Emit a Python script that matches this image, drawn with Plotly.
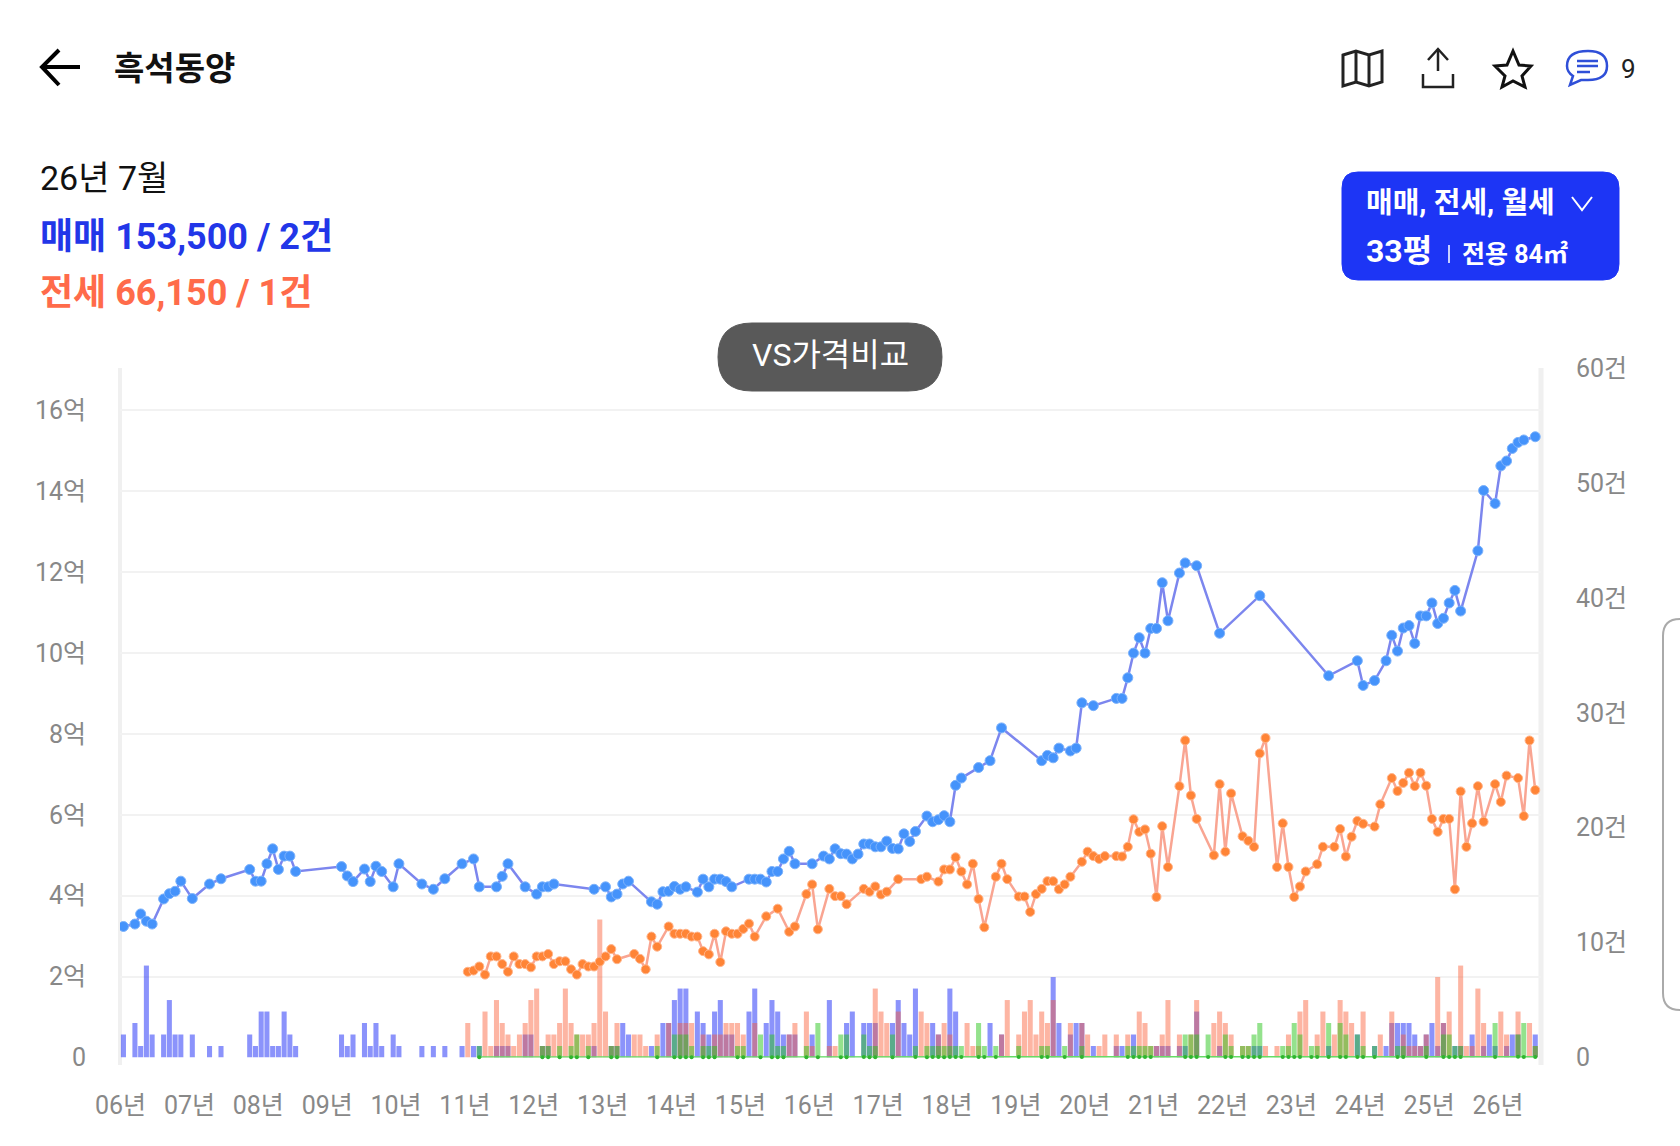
import plotly.graph_objects as go

W = 1680
H = 1146

# months counted from 2006-01
year_ticks = [0, 12, 24, 36, 48, 60, 72, 84, 96, 108, 120, 132, 144, 156, 168, 180, 192, 204, 216, 228, 240]
year_labels = ["06년", "07년", "08년", "09년", "10년", "11년", "12년", "13년", "14년", "15년", "16년",
               "17년", "18년", "19년", "20년", "21년", "22년", "23년", "24년", "25년", "26년"]
price_ticks = [0, 20000, 40000, 60000, 80000, 100000, 120000, 140000, 160000]
price_labels = ["0", "2억", "4억", "6억", "8억", "10억", "12억", "14억", "16억"]
count_ticks = [0, 10, 20, 30, 40, 50, 60]
count_labels = ["0", "10건", "20건", "30건", "40건", "50건", "60건"]

sale_month = [0, 2, 3, 4, 5, 7, 8, 9, 10, 12, 15, 17, 22, 23, 24, 25, 26, 27, 28, 29, 30, 38, 39, 40, 42, 43, 44, 45,
              47, 48, 52, 54, 56, 59, 61, 62, 65, 66, 67, 70, 72, 73, 74, 75, 82, 84, 85, 86, 87, 88,
              92, 93, 94, 95, 96, 97, 98, 100, 101, 102, 103, 104, 105, 106, 109, 110, 111, 112, 113, 114, 115, 116,
              117, 120, 122, 123, 124, 125, 126, 127, 128, 129, 130, 131, 132, 133, 134, 135, 136, 137, 138,
              140, 141, 142, 143, 144, 145, 146, 149, 151, 153, 160, 161, 162, 163, 165, 166, 167, 169, 173, 174,
              175, 176, 177, 178, 179, 180, 181, 182, 184, 185, 187, 191, 198, 210, 215, 216, 218, 220, 221, 222,
              223, 224, 225, 226, 227, 228, 229, 230, 231, 232, 233, 236, 237, 239, 240, 241, 242, 243, 244, 246]
sale_price = [32400, 33000, 35500, 33700, 33000, 39200, 40500, 41100, 43600, 39300, 42900, 44200, 46500, 43600, 43600,
              47900, 51600, 46500, 49800, 49800, 46000, 47200, 44900, 43500, 46600, 43500, 47300, 46000,
              42200, 47900, 42900, 41600, 44200, 47900, 49100, 42200, 42200, 44800, 47900, 42200, 40400, 42200, 42200,
              42900, 41600, 42200, 39700, 40400, 42900, 43600,
              38500, 37900, 41000, 41100, 42300, 41600, 42200, 40900, 44100, 42200, 44100, 44100, 43500, 42200,
              44100, 44100, 44100, 43400, 46000, 46000, 49100, 51000, 47900, 47900, 49800, 49100, 51600, 50400,
              50300, 49100, 50300, 52800, 52800, 52100, 52100, 53500, 51700, 51600, 55300, 53400, 55900,
              59700, 58300, 58800, 59800, 58300, 67300, 69100, 71700, 73400, 81500, 73400, 74700, 74100, 76500,
              75800, 76500, 87700, 87000, 88800, 88800, 93900, 100000, 103800, 100000, 106100, 106100, 117400,
              108000, 119800, 122300, 121600, 104900, 114200, 94400, 98100, 92000, 93200, 98100, 104400, 100500,
              106200, 106800, 102400, 109200, 109200, 112400, 107300, 108600, 112400, 115500, 110400, 125300,
              140200, 137000, 146300, 147500, 150600, 152100, 152700, 153500]

jeonse_month = [60, 61, 62, 63, 64, 65, 66, 67, 68, 69, 70, 71, 72, 73, 74, 75, 76, 77, 78, 79, 80, 81, 82, 83, 84, 85,
                86, 89, 90, 91, 92, 93, 95, 96, 97, 98, 99, 100, 101, 102, 103, 104, 105, 106, 107, 108, 109, 110,
                112, 114, 116, 117, 119, 120, 121, 123, 124, 125, 126, 129, 130, 131, 132, 133, 135, 139, 140, 142,
                143, 144, 145, 146, 147, 148, 149, 150, 152, 153, 154, 156, 157, 158, 159, 160, 161, 162, 163, 164,
                165, 167, 168, 169, 170, 171, 173, 174, 175, 176, 177, 178, 179, 180, 181, 182, 184, 185, 186, 187,
                190, 191, 192, 193, 195, 196, 197, 198, 199, 201, 202, 203, 204, 205, 206, 208, 209, 211, 212, 213,
                214, 215, 216, 218, 219, 221, 222, 223, 224, 225, 226, 227, 228, 229, 230, 231, 232, 233, 234, 235,
                236, 237, 239, 240, 241, 243, 244, 245, 246]
jeonse_price = [21200, 21500, 22500, 20500, 25000, 25000, 23100, 21200, 25000, 23100, 23100, 22300, 25000, 25000,
                25600, 23100, 23800, 23800, 21800, 20500, 23100, 22500, 22500, 23700, 25000, 26800,
                24300, 25600, 24400, 21800, 29900, 27400, 32400, 30600, 30600, 30600, 29900, 29900, 26300, 25500,
                30600, 23600, 31200, 30600, 30600, 31800, 33100, 29900,
                34900, 36800, 31100, 32400, 40400, 42800, 31700, 41700, 39900, 39900, 37900, 41700, 41000, 42300,
                40300, 41000, 44100, 44100, 44700, 43500,
                46500, 46500, 49500, 46000, 42800, 47900, 39200, 32200, 44700, 47900, 44100, 39800, 39800, 36000,
                40400, 41700, 43600, 43600, 41600, 42800,
                44700, 48400, 50900, 49800, 49100, 49800, 49800, 49700, 52100, 58900, 55800, 56400, 50400, 39700,
                57200, 47100, 67100, 78400, 64800, 59000,
                50000, 67600, 50900, 65300, 54700, 53600, 52100, 75200, 79000, 47100, 57900, 47100, 39700, 42300,
                46000, 47800, 52100, 52100, 56500, 49700,
                54600, 58500, 57800, 57100, 62600, 69100, 65900, 67900, 70400, 67100, 70400, 67200, 59000, 55800,
                59000, 59000, 41600, 65800, 52100, 57900,
                67100, 58300, 67600, 63200, 69700, 69100, 59700, 78400, 66150]

rent_month = [62, 73, 74, 76, 78, 79, 81, 85, 86, 93, 96, 97, 98, 99, 101, 102, 103, 107, 108, 111, 113, 114, 115, 119,
              121, 125, 126, 129, 130, 131, 134, 138, 140, 141, 142, 143, 144, 145, 146, 149, 150, 152, 156, 160, 161,
              164, 167, 175, 176, 177, 178, 179, 185, 186, 187, 189, 192, 193, 195, 196, 197, 198, 202, 203, 204, 205,
              207, 208, 210, 212, 213, 215, 216, 218, 222, 223, 227, 230, 231, 232, 233, 239, 243, 244, 246]
rent_price = [60, 70, 70, 65, 75, 70, 80, 70, 75, 80, 75, 80, 75, 85, 80, 80, 75, 90, 85, 80, 85, 80, 90, 85,
              90, 85, 90, 95, 90, 85, 90, 95, 90, 100, 95, 90, 100, 95, 100, 100, 95, 105, 100, 110, 105,
              100, 110, 115, 110, 105, 115, 110, 120, 125, 120, 115, 125, 130, 120, 125, 130, 125, 135, 130, 125, 130,
              135, 130, 140, 135, 130, 140, 135, 140, 145, 140, 135, 145, 140, 150, 145, 150, 155, 150, 150]

sale_count_month = [0, 2, 3, 4, 5, 7, 8, 9, 10, 12, 15, 17, 22, 23, 24, 25, 26, 27, 28, 29, 30, 38, 39, 40, 42, 43, 44,
                    45, 47, 48, 52, 54, 56, 59, 61, 62, 65, 66, 67, 70, 71, 73, 74, 82, 85, 86, 87, 88, 92, 94, 95, 96,
                    97, 98, 100, 101, 102, 103, 104, 105, 106, 109, 110, 112, 113, 114, 115, 116, 117, 120, 123, 126,
                    127, 129, 130, 131, 134, 135, 136, 137, 138, 141, 142, 144, 145, 151, 153, 162, 163, 165, 166, 167,
                    169, 173, 174, 176, 180, 181, 182, 184, 185, 187, 191, 197, 198, 210, 215, 218, 220, 221, 222, 223,
                    224, 225, 226, 227, 228, 229, 230, 232, 233, 235, 237, 238, 239, 241, 242, 243, 246]
sale_count = [2, 3, 1, 8, 2, 2, 5, 2, 2, 2, 1, 1, 2, 1, 4, 4, 1, 1, 4, 2, 1, 2, 1, 2, 3, 1, 3,
              1, 2, 1, 1, 1, 1, 1, 1, 1, 1, 1, 1, 2, 2, 1, 1, 1, 1, 1, 3, 2, 1, 3, 3, 5,
              6, 6, 4, 3, 2, 4, 5, 2, 2, 4, 6, 3, 5, 4, 2, 2, 2, 2, 5, 3,
              4, 3, 3, 3, 3, 5, 3, 2, 6, 3, 2, 6, 4, 3, 2, 7, 3, 2, 3, 3,
              1, 1, 1, 2, 1, 1, 1, 1, 1, 4, 1, 1, 1, 1, 2, 1, 1, 3, 3, 3,
              3, 2, 1, 2, 3, 1, 3, 1, 1, 2, 1, 2, 1, 1, 2, 2, 2]

jeonse_count_month = [60, 63, 64, 65, 66, 67, 68, 69, 70, 71, 72, 73, 74, 75, 76, 77, 78, 79, 80, 81, 82, 83, 84, 85,
                      86, 89, 90, 91, 93, 95, 97, 98, 99, 101, 103, 104, 105, 106, 107, 108, 110, 116, 117, 119, 120,
                      123, 124, 131, 132, 133, 135, 139, 140, 142, 143, 144, 147, 148, 149, 153, 154, 156, 157, 158,
                      159, 160, 161, 162, 165, 167, 168, 170, 171, 173, 175, 177, 178, 179, 180, 181, 182, 184, 186,
                      187, 190, 191, 192, 193, 195, 196, 199, 201, 203, 205, 206, 208, 209, 211, 212, 213, 214, 216,
                      219, 221, 223, 224, 225, 226, 227, 229, 230, 231, 233, 234, 235, 236, 237, 240, 241, 243, 245, 246]
jeonse_count = [3, 4, 1, 5, 3, 2, 1, 2, 3, 5, 6, 1, 2, 2, 3, 6, 3, 2, 2, 2, 3, 12, 4, 1,
                3, 2, 2, 1, 2, 3, 3, 3, 3, 2, 2, 2, 3, 3, 3, 2, 3, 2, 3, 4, 1,
                1, 1, 6, 4, 3, 4, 4, 3, 2, 3, 2, 3, 1, 1, 2, 5, 2, 4, 5,
                2, 4, 3, 5, 3, 3, 2, 1, 2, 2, 2, 4, 3, 1, 1, 2, 5, 2, 2,
                5, 3, 4, 3, 2, 1, 1, 1, 1, 2, 4, 5, 2, 4, 2, 5, 4, 3, 4,
                2, 4, 2, 1, 1, 1, 2, 7, 3, 4, 8, 1, 1, 6, 3, 4, 2, 4, 3, 1]

rent_count_month = rent_month
rent_count = [1, 1, 1, 1, 1, 2, 1, 1, 1, 1, 2, 2, 2, 1, 1, 1, 1, 1, 1, 2, 2, 1, 1, 1,
              3, 2, 2, 2, 1, 1, 2, 1, 1, 1, 1, 1, 1, 1, 1, 3, 1, 1, 1, 1, 1,
              1, 1, 1, 1, 1, 1, 1, 2, 2, 2, 2, 2, 1, 1, 1, 2, 3, 1, 1, 3, 2,
              1, 1, 3, 3, 2, 2, 1, 1, 1, 1, 1, 2, 2, 1, 1, 3, 2, 3, 1]

FONT = "Roboto, 'Noto Sans CJK KR', sans-serif"
KR = "'Noto Sans CJK KR', sans-serif"


def pt(x, y):
    return f"{x / W:.5f},{1 - y / H:.5f}"


def path(points, close=False):
    s = "M " + " L ".join(pt(x, y) for x, y in points)
    return s + " Z" if close else s


def rounded(x0, y0, x1, y1, r):
    return (f"M {pt(x0 + r, y0)} L {pt(x1 - r, y0)} Q {pt(x1, y0)} {pt(x1, y0 + r)} "
            f"L {pt(x1, y1 - r)} Q {pt(x1, y1)} {pt(x1 - r, y1)} L {pt(x0 + r, y1)} "
            f"Q {pt(x0, y1)} {pt(x0, y1 - r)} L {pt(x0, y0 + r)} Q {pt(x0, y0)} {pt(x0 + r, y0)} Z")


def shape(d, line="black", width=3, fill=None):
    s = dict(type="path", path=d, xref="paper", yref="paper", line=dict(color=line, width=width))
    if fill:
        s["fillcolor"] = fill
    return s


def label(x, y, text, size, color="black", weight=400, anchor="left", family=FONT):
    return dict(x=x / W, y=1 - y / H, xref="paper", yref="paper", text=text, showarrow=False, xanchor=anchor,
                yanchor="middle", font=dict(family=family, size=size, color=color, weight=weight))


fig = go.Figure()

# bars go on the base axis so that the price lines stay on top of them
fig.add_trace(go.Bar(x=sale_count_month, y=sale_count, width=0.88, marker=dict(color="rgba(23,39,247,0.5)", line_width=0),
                     name="매매 거래량", yaxis="y"))
fig.add_trace(go.Bar(x=jeonse_count_month, y=jeonse_count, width=0.88, marker=dict(color="rgba(250,90,50,0.45)", line_width=0),
                     name="전세 거래량", yaxis="y"))
fig.add_trace(go.Bar(x=rent_count_month, y=rent_count, width=0.88, marker=dict(color="rgba(42,197,28,0.5)", line_width=0),
                     name="월세 거래량", yaxis="y"))

fig.add_trace(go.Scatter(x=rent_month, y=rent_price, mode="lines+markers", name="월세", yaxis="y2", cliponaxis=False,
                         line=dict(color="#66dc66", width=2), marker=dict(color="#2fb52f", size=4)))
fig.add_trace(go.Scatter(x=jeonse_month, y=jeonse_price, mode="lines+markers", name="전세", yaxis="y2",
                         line=dict(color="#f9a592", width=2.5), marker=dict(color="#ff8436", size=9,
                                                                            line=dict(color="#ffb48a", width=1))))
fig.add_trace(go.Scatter(x=sale_month, y=sale_price, mode="lines+markers", name="매매", yaxis="y2",
                         line=dict(color="#7c86ee", width=2.5), marker=dict(color="#4593fb", size=10,
                                                                           line=dict(color="#7cb2fb", width=1))))

shapes = [
    # axis side bars
    dict(type="line", xref="paper", yref="paper", x0=120 / W, x1=120 / W, y0=1 - 368 / H, y1=1 - 1065 / H,
         line=dict(color="#f0f0f0", width=4), layer="below"),
    dict(type="line", xref="paper", yref="paper", x0=1541 / W, x1=1541 / W, y0=1 - 368 / H, y1=1 - 1065 / H,
         line=dict(color="#f0f0f0", width=5), layer="below"),
    # back arrow
    shape(path([(42, 67), (80, 67)]), width=4),
    shape(path([(59, 50), (42, 67), (59, 85)]), width=4),
    # map
    shape(path([(1343, 55), (1356, 51), (1369, 55), (1382, 51), (1382, 82), (1369, 86), (1356, 82), (1343, 86)], True),
          line="#222222", width=3),
    shape(path([(1356, 51), (1356, 82)]), line="#222222", width=3),
    shape(path([(1369, 55), (1369, 86)]), line="#222222", width=3),
    # upload
    shape(path([(1438, 71), (1438, 49)]), line="#222222", width=2.5),
    shape(path([(1428, 60), (1438, 49), (1448, 60)]), line="#222222", width=2.5),
    shape(path([(1423, 74), (1423, 87), (1453, 87), (1453, 74)]), line="#222222", width=2.5),
    # star
    shape(path([(1513, 51), (1519, 65), (1531, 66), (1522, 76), (1525, 87), (1513, 81), (1502, 87), (1505, 76),
                (1495, 66), (1507, 65)], True), line="#111111", width=3),
    # comment bubble
    shape(f"M {pt(1588, 51)} Q {pt(1607, 51)} {pt(1607, 66)} Q {pt(1607, 80)} {pt(1588, 80)} L {pt(1581, 80)} "
          f"L {pt(1570, 85)} L {pt(1573, 76)} Q {pt(1567, 72)} {pt(1567, 66)} Q {pt(1567, 51)} {pt(1588, 51)} Z",
          line="#2f4fd8", width=2.5),
    shape(path([(1577, 61), (1598, 61)]), line="#2f4fd8", width=2.5),
    shape(path([(1577, 66), (1598, 66)]), line="#2f4fd8", width=2.5),
    shape(path([(1577, 72), (1590, 72)]), line="#2f4fd8", width=2.5),
    # type selector button
    shape(rounded(1342, 172, 1619, 280, 16), line="#1d35f5", width=1, fill="#1d35f5"),
    shape(path([(1572, 197), (1582, 210), (1592, 197)]), line="white", width=2),
    shape(path([(1449, 245), (1449, 263)]), line="#c8d0ff", width=2),
    # VS button
    shape(rounded(718, 323, 942, 391, 34), line="#595959", width=1, fill="#595959"),
    # side tab at the right edge
    shape(f"M {pt(1680, 619)} Q {pt(1663, 619)} {pt(1663, 636)} L {pt(1663, 993)} Q {pt(1663, 1010)} {pt(1680, 1010)}",
          line="#aaaaaa", width=2),
]

annotations = [
    label(112, 66, "흑석동양", 33, "#111111", 700, family=KR),
    label(38, 178, "26년 7월", 34, "#111111"),
    label(38, 237, "매매 153,500 / 2건", 36, "#2236e8", 700),
    label(38, 293, "전세 66,150 / 1건", 36, "#ff6b4a", 700),
    label(1364, 203, "매매, 전세, 월세", 29, "white", 700),
    label(1364, 251, "33평", 32, "white", 700),
    label(1460, 254, "전용 84㎡", 25, "white", 700),
    label(1619, 69, "9", 26, "#222222"),
    label(830, 355, "VS가격비교", 32, "white", anchor="center"),
]

fig.update_layout(
    width=W,
    height=H,
    margin=dict(l=0, r=0, t=0, b=0),
    paper_bgcolor="white",
    plot_bgcolor="white",
    barmode="overlay",
    showlegend=False,
    font=dict(family=FONT, color="#888888"),
    shapes=shapes,
    annotations=annotations,
    xaxis=dict(
        domain=[120 / W, 1541 / W],
        range=[-0.6, 247],
        tickvals=[m - 0.5 for m in year_ticks],
        ticktext=year_labels,
        tickfont=dict(size=25, color="#888888"),
        ticks="outside",
        ticklen=25,
        tickcolor="rgba(0,0,0,0)",
        showgrid=False,
        zeroline=False,
        showline=False,
        automargin=False,
    ),
    yaxis=dict(
        domain=[1 - 1057.5 / H, 1 - 368 / H],
        range=[0, 60],
        side="right",
        tickvals=count_ticks,
        ticktext=count_labels,
        tickfont=dict(size=25, color="#888888"),
        ticks="outside",
        ticklen=29,
        tickcolor="rgba(0,0,0,0)",
        showgrid=False,
        zeroline=False,
        showline=False,
        automargin=False,
    ),
    yaxis2=dict(
        overlaying="y",
        side="left",
        range=[0, 170500],
        tickvals=price_ticks,
        ticktext=price_labels,
        tickfont=dict(size=25, color="#888888"),
        ticks="outside",
        ticklen=28,
        tickcolor="rgba(0,0,0,0)",
        showgrid=True,
        gridcolor="#f2f2f2",
        gridwidth=2,
        zeroline=False,
        showline=False,
        automargin=False,
    ),
)

fig.write_html("out.html", config={"displayModeBar": False}, post_script="document.body.style.margin='0';")
